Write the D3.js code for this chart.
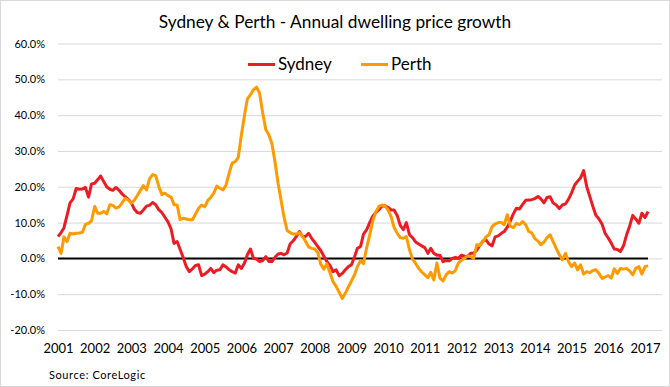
<!DOCTYPE html>
<html>
<head>
<meta charset="utf-8">
<script src="https://cdn.jsdelivr.net/npm/d3@7"></script>
<style>
  body { margin: 0; background: #fff; }
  text { font-family: Lato, "Open Sans", sans-serif; fill: #000; }
</style>
</head>
<body>
<script>
// monthly annual growth (%), Jan 2001 .. Feb 2017
const sydney = [
  6.1, 7.2, 8.5, 12.0, 15.5, 16.6, 19.5, 19.3, 19.4, 19.8, 17.1, 20.8,
  21.0, 22.0, 23.0, 21.5, 20.0, 19.3, 19.0, 19.8, 19.0, 18.0, 17.2, 16.5,
  15.5, 13.7, 12.8, 12.6, 13.5, 14.6, 14.8, 15.6, 15.0, 13.6, 12.8, 11.5,
  10.2, 8.2, 4.2, 4.7, 2.5, 0.2, -2.3, -3.7, -2.9, -2.0, -1.8, -4.8,
  -4.4, -3.7, -2.8, -4.0, -3.3, -3.2, -1.8, -2.4, -3.2, -3.7, -4.1, -1.8,
  -2.8, -1.3, 1.0, 2.6, 0.0, -0.2, -0.9, -0.6, 0.5, -0.9, -0.9, 0.3,
  1.2, 1.4, 1.0, 1.5, 4.0, 4.9, 6.1, 7.5, 6.1, 6.1, 7.0, 5.6,
  4.5, 3.3, 2.2, 0.6, -0.9, -2.0, -3.7, -3.2, -4.9, -4.2, -3.2, -2.3,
  -1.8, 0.5, 2.8, 3.3, 6.8, 8.0, 10.0, 11.8, 12.8, 13.6, 14.6, 14.7,
  14.2, 13.5, 13.5, 12.0, 9.2, 8.0, 10.0, 6.6, 5.8, 4.6, 4.0, 3.5,
  3.0, 1.4, 2.8, 1.4, 0.9, 0.9, -0.9, -0.6, -0.7, 0.0, 0.3, 0.0,
  0.9, 0.6, 0.5, 1.4, 1.4, 2.3, 3.6, 4.8, 5.2, 4.0, 3.5, 6.0,
  6.3, 7.0, 7.5, 8.7, 10.4, 12.5, 14.0, 13.8, 15.1, 16.2, 16.3, 16.4,
  16.7, 17.3, 16.6, 15.5, 17.0, 17.2, 15.5, 14.9, 13.9, 14.9, 15.2, 16.5,
  18.3, 20.5, 21.5, 22.5, 24.5, 20.0, 17.3, 14.5, 12.0, 11.0, 9.5, 7.0,
  5.7, 4.2, 2.6, 2.5, 1.9, 3.5, 6.5, 9.0, 12.0, 11.0, 9.8, 12.6,
  11.4, 13.1
];
const perth = [
  3.3, 1.4, 6.0, 4.7, 7.0, 6.8, 7.0, 7.1, 7.3, 9.5, 9.8, 10.5,
  14.5, 12.6, 12.6, 13.1, 12.4, 15.0, 14.8, 14.0, 14.4, 15.5, 16.8, 16.3,
  15.4, 16.3, 17.5, 19.0, 20.3, 19.1, 22.2, 23.4, 23.1, 20.1, 17.8, 18.2,
  17.5, 17.1, 15.0, 14.9, 10.8, 11.2, 11.0, 10.8, 10.8, 12.4, 14.0, 14.9,
  14.4, 16.2, 17.0, 18.2, 20.2, 19.6, 19.1, 20.5, 23.8, 26.6, 27.0, 28.2,
  34.5, 40.0, 44.5, 45.7, 47.1, 47.8, 46.1, 40.6, 35.9, 34.5, 32.0, 27.0,
  21.0, 16.0, 11.5, 7.8, 7.2, 6.8, 6.8, 7.2, 6.2, 4.8, 3.2, 2.8,
  2.6, 1.6, -1.6, -3.0, -1.5, -4.0, -6.5, -7.8, -9.5, -11.2, -9.7, -8.0,
  -6.3, -4.5, -2.3, -0.6, -1.5, 3.0, 6.5, 10.5, 13.0, 14.5, 14.9, 14.6,
  13.5, 11.5, 8.6, 7.0, 5.8, 5.6, 6.1, 2.4, -0.2, -1.4, -2.8, -3.8,
  -4.6, -5.4, -3.9, -6.0, -1.3, -5.5, -6.3, -4.6, -3.7, -4.1, -3.4, -1.3,
  -0.5, 0.0, 0.7, 0.5, 0.0, 3.8, 3.6, 4.7, 6.0, 6.6, 8.9, 9.6,
  10.0, 10.0, 9.4, 12.2, 9.0, 8.6, 9.8, 9.4, 10.3, 9.4, 7.5, 7.1,
  5.5, 4.8, 3.8, 4.5, 5.8, 6.6, 4.7, 2.8, 1.0, -0.4, 1.4, -0.9,
  -2.3, -1.3, -3.2, -1.8, -4.4, -3.7, -4.0, -3.4, -3.2, -4.2, -5.6, -5.2,
  -4.8, -5.5, -2.9, -4.2, -2.8, -3.0, -2.8, -3.5, -4.6, -2.8, -2.3, -4.4,
  -2.3, -2.1
];
const years = d3.range(2001, 2018);
const yTicks = [-20, -10, 0, 10, 20, 30, 40, 50, 60];
const seriesNames = ["Sydney", "Perth"];
const colors = ["#ED1C24", "#FF9A00"];

const W = 670, H = 387;
const margin = {top: 43.5, right: 20, bottom: 57, left: 58};

const svg = d3.select("body").append("svg")
    .attr("width", W)
    .attr("height", H);

svg.append("rect")
    .attr("x", 0.5).attr("y", 0.5)
    .attr("width", W - 1).attr("height", H - 1)
    .attr("fill", "#fff").attr("stroke", "#d9d9d9");

const month = i => new Date(Date.UTC(2001, i, 1));

const x = d3.scaleUtc()
    .domain([month(0), month(192)])
    .range([58, 645]);

const y = d3.scaleLinear()
    .domain([-20, 60])
    .range([H - margin.bottom, margin.top]);

// gridlines + y labels
const yAxis = svg.append("g")
    .attr("transform", "translate(" + margin.left + ",0)")
    .call(d3.axisLeft(y).tickValues(yTicks)
        .tickSize(-(W - margin.left - margin.right + 12))
        .tickPadding(13)
        .tickFormat(d => d.toFixed(1) + "%"));
yAxis.select(".domain").remove();
yAxis.selectAll("line").attr("stroke", "#d9d9d9").attr("stroke-width", 1);
yAxis.selectAll("text").style("font-size", "11px").attr("fill", "#000");

// x labels
const xAxis = svg.append("g")
    .attr("transform", "translate(0," + (H - margin.bottom) + ")")
    .call(d3.axisBottom(x)
        .tickValues(years.map(yr => new Date(Date.UTC(yr, 0, 1))))
        .tickSize(0)
        .tickPadding(14)
        .tickFormat(d3.utcFormat("%Y")));
xAxis.select(".domain").remove();
xAxis.selectAll("text").style("font-size", "13px").attr("fill", "#000");

// zero line
svg.append("line")
    .attr("x1", margin.left).attr("x2", 648)
    .attr("y1", y(0)).attr("y2", y(0))
    .attr("stroke", "#000").attr("stroke-width", 2);

const line = d3.line()
    .x((d, i) => x(month(i)))
    .y(d => y(d));

[sydney, perth].forEach((s, k) => {
    svg.append("path")
        .datum(s)
        .attr("fill", "none")
        .attr("stroke", colors[k])
        .attr("stroke-width", 3)
        .attr("stroke-linejoin", "round")
        .attr("d", line);
});

// title
svg.append("text")
    .attr("x", W / 2).attr("y", 28)
    .attr("text-anchor", "middle")
    .style("font-size", "17.3px")
    .text("Sydney & Perth - Annual dwelling price growth");

// legend
const legend = svg.append("g").attr("transform", "translate(248,64.5)");
const legX = [0, 113];
seriesNames.forEach((name, k) => {
    const g = legend.append("g").attr("transform", "translate(" + legX[k] + ",0)");
    g.append("line")
        .attr("x1", 0).attr("x2", 27)
        .attr("stroke", colors[k]).attr("stroke-width", 3);
    g.append("text")
        .attr("x", 30).attr("y", 5.5)
        .style("font-size", "17px")
        .text(name);
});

// source
svg.append("text")
    .attr("x", 49).attr("y", 379)
    .style("font-size", "11px")
    .style("letter-spacing", "0.6px")
    .text("Source: CoreLogic");
</script>
</body>
</html>
